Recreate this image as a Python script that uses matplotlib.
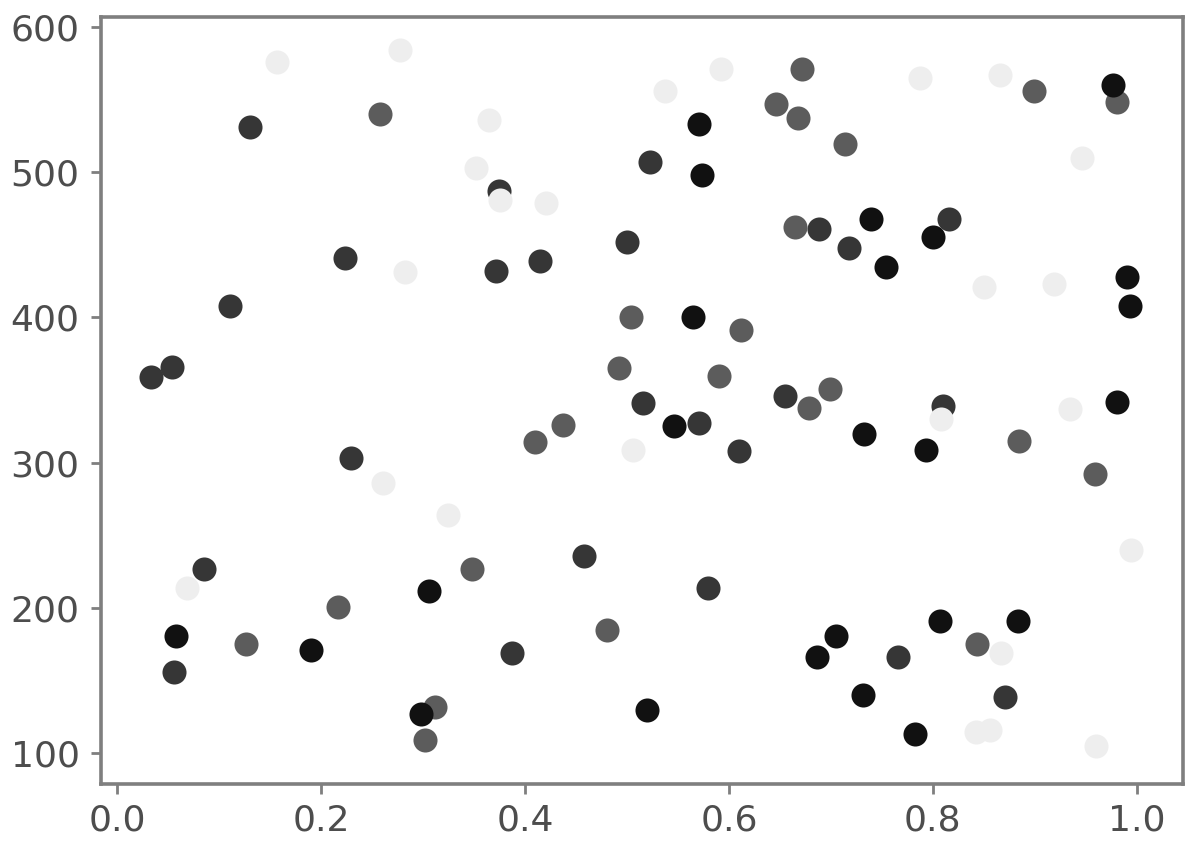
import matplotlib
matplotlib.use('Agg')
import matplotlib.pyplot as plt

# Four grey groups.
light_x = [0.157, 0.277, 0.365, 0.352, 0.376, 0.421, 0.537, 0.592, 0.787, 0.866,
           0.946, 0.282, 0.850, 0.919, 0.261, 0.506, 0.325, 0.808, 0.934, 0.994,
           0.069, 0.867, 0.842, 0.856, 0.960]
light_y = [576, 584, 536, 503, 481, 479, 556, 571, 565, 567,
           510, 431, 421, 423, 286, 309, 264, 330, 337, 240,
           214, 169, 115, 116, 105]

mid_x = [0.258, 0.646, 0.672, 0.668, 0.714, 0.899, 0.981, 0.665, 0.504, 0.612,
         0.492, 0.590, 0.437, 0.410, 0.348, 0.699, 0.679, 0.884, 0.959, 0.217,
         0.126, 0.480, 0.312, 0.302, 0.843]
mid_y = [540, 547, 571, 537, 519, 556, 548, 462, 400, 391,
         365, 360, 326, 314, 227, 351, 338, 315, 292, 201,
         175, 185, 132, 109, 175]

dark_x = [0.130, 0.375, 0.523, 0.688, 0.718, 0.816, 0.224, 0.500, 0.372, 0.415,
          0.111, 0.033, 0.054, 0.229, 0.085, 0.516, 0.655, 0.571, 0.610, 0.458,
          0.810, 0.056, 0.579, 0.387, 0.766, 0.871]
dark_y = [531, 487, 507, 461, 448, 468, 441, 452, 432, 439,
          408, 359, 366, 303, 227, 341, 346, 327, 308, 236,
          339, 156, 214, 169, 166, 139]

black_x = [0.571, 0.574, 0.977, 0.739, 0.754, 0.800, 0.990, 0.565, 0.546, 0.732,
           0.793, 0.981, 0.993, 0.058, 0.190, 0.306, 0.520, 0.298, 0.705, 0.686,
           0.731, 0.807, 0.883, 0.782]
black_y = [533, 498, 560, 468, 435, 455, 428, 400, 325, 320,
           309, 342, 408, 181, 171, 212, 130, 127, 181, 166,
           140, 191, 191, 113]

GROUPS = (
    (dark_x, dark_y, '#363636'),
    (mid_x, mid_y, '#5c5c5c'),
    (black_x, black_y, '#111111'),
    (light_x, light_y, '#eeeeee'),
)


def main() -> None:
    fig = plt.figure(figsize=(12, 8.41), dpi=100)
    ax = fig.add_axes((0.0842, 0.0674, 0.9014, 0.912))

    for xs, ys, colour in GROUPS:
        ax.scatter(xs, ys, s=300, c=colour, linewidths=0)

    ax.set_xlim(-0.0157, 1.045)
    ax.set_ylim(78.7, 606.5)
    ax.set_xticks([0.0, 0.2, 0.4, 0.6, 0.8, 1.0])
    ax.set_yticks([100, 200, 300, 400, 500, 600])

    for spine in ax.spines.values():
        spine.set_color('#7f7f7f')
        spine.set_linewidth(2.6)
    ax.tick_params(axis='both', colors='#7f7f7f', labelcolor='#4d4d4d',
                   length=7.5, width=2, labelsize=26)
    ax.tick_params(axis='y', pad=8)
    ax.tick_params(axis='x', pad=6)

    fig.savefig('out.png', dpi=100)
    plt.close(fig)


if __name__ == '__main__':
    main()
